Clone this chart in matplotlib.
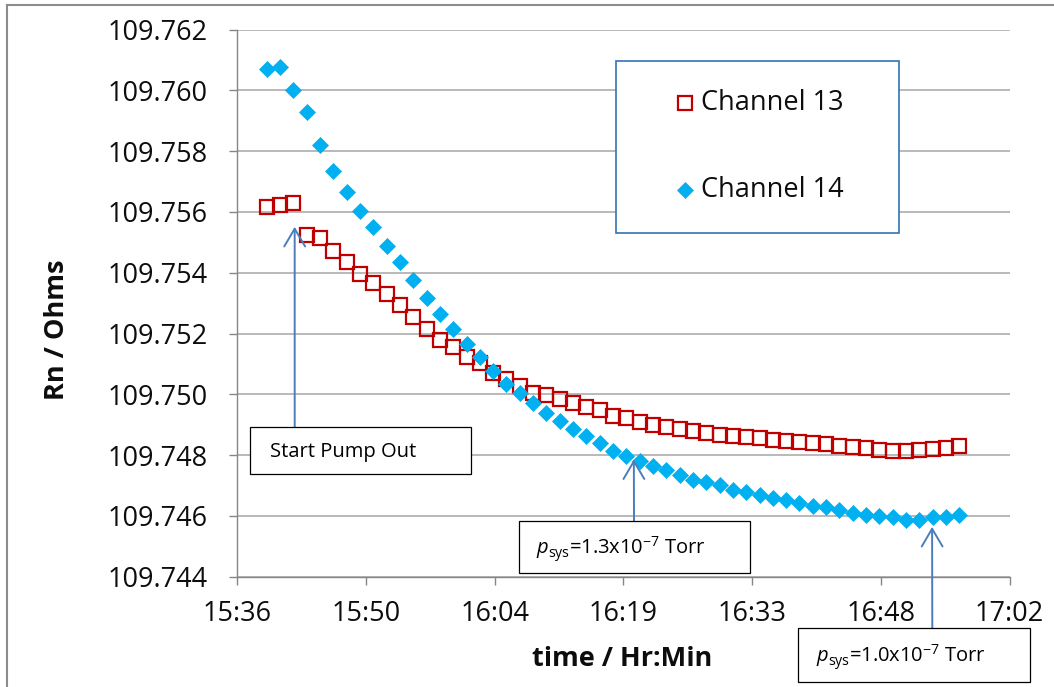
import math
import matplotlib
matplotlib.use("Agg")
import matplotlib.pyplot as plt
from matplotlib.ticker import FixedLocator, FuncFormatter
from matplotlib.patches import Rectangle
from matplotlib.lines import Line2D

plt.rcParams['font.family'] = ['Open Sans', 'DejaVu Sans']
plt.rcParams['mathtext.fontset'] = 'custom'
plt.rcParams['mathtext.rm'] = 'Open Sans'
plt.rcParams['mathtext.it'] = 'Open Sans:italic'

# ---- data -------------------------------------------------------------
start_clock = (15, 36)  # time origin of the x axis (hh, mm)

# sample times, minutes after 15:36
elapsed_min = [3.30, 4.79, 6.28, 7.77, 9.26, 10.75, 12.24, 13.73, 15.22, 16.71,
               18.20, 19.69, 21.18, 22.67, 24.16, 25.65, 27.14, 28.63, 30.12, 31.61,
               33.10, 34.59, 36.08, 37.57, 39.06, 40.55, 42.04, 43.53, 45.02, 46.51,
               48.00, 49.49, 50.98, 52.47, 53.96, 55.45, 56.94, 58.43, 59.92, 61.41,
               62.90, 64.39, 65.88, 67.37, 68.86, 70.35, 71.84, 73.33, 74.82, 76.31,
               77.80, 79.29, 80.78]

channel_13 = [109.75615, 109.75624, 109.75629, 109.75523, 109.75513, 109.75470, 109.75435,
              109.75396, 109.75365, 109.75330, 109.75293, 109.75255, 109.75216, 109.75179,
              109.75157, 109.75124, 109.75102, 109.75071, 109.75049, 109.75027, 109.75005,
              109.74997, 109.74986, 109.74970, 109.74958, 109.74947, 109.74930, 109.74921,
              109.74909, 109.74898, 109.74893, 109.74887, 109.74880, 109.74873, 109.74867,
              109.74863, 109.74860, 109.74856, 109.74850, 109.74846, 109.74843, 109.74840,
              109.74837, 109.74830, 109.74828, 109.74822, 109.74817, 109.74813, 109.74813,
              109.74816, 109.74819, 109.74825, 109.74831]

channel_14 = [109.76069, 109.76076, 109.76001, 109.75929, 109.75821, 109.75736, 109.75665,
              109.75602, 109.75549, 109.75489, 109.75435, 109.75376, 109.75318, 109.75264,
              109.75216, 109.75165, 109.75122, 109.75078, 109.75034, 109.75003, 109.74970,
              109.74938, 109.74913, 109.74887, 109.74864, 109.74841, 109.74815, 109.74797,
              109.74782, 109.74764, 109.74751, 109.74733, 109.74719, 109.74712, 109.74703,
              109.74686, 109.74679, 109.74668, 109.74660, 109.74653, 109.74642, 109.74632,
              109.74630, 109.74619, 109.74609, 109.74603, 109.74600, 109.74595, 109.74587,
              109.74587, 109.74597, 109.74595, 109.74603]

y_ticks = [109.744, 109.746, 109.748, 109.750, 109.752, 109.754,
           109.756, 109.758, 109.760, 109.762]
x_ticks_min = [0.0, 14.4, 28.8, 43.2, 57.6, 72.0, 86.4]   # 0.01-day steps

series_labels = ["Channel 13", "Channel 14"]

# annotation arrow tips (minutes after 15:36, ohms)
pump_out_tip = (6.42, 109.75551)
p13_tip = (44.37, 109.74786)
p10_tip = (77.74, 109.74564)

# ---- styling ----------------------------------------------------------
RED = '#C00000'
BLUE = '#00B0F0'
ARROW = '#4A7EBB'
GRID = '#A6A6A6'
AXIS = '#868686'
TEXT = '#0d0d0d'

W, H = 1054, 687
fig = plt.figure(figsize=(W / 100, H / 100), dpi=100)


def fx(px):
    return px / W


def fy(py):
    return 1 - py / H


ax_l, ax_r, ax_t, ax_b = 237.3, 1009.5, 29.5, 576.7
ax = fig.add_axes([fx(ax_l), fy(ax_b), fx(ax_r - ax_l), (ax_b - ax_t) / H])

sq_style = dict(linestyle='none', marker='s', markersize=9.6, markerfacecolor='none',
                markeredgecolor=RED, markeredgewidth=1.6)
di_style = dict(linestyle='none', marker='D', markersize=8.2, markerfacecolor=BLUE,
                markeredgecolor=BLUE, markeredgewidth=0.5)

ax.plot(elapsed_min, channel_13, zorder=3, **sq_style)
ax.plot(elapsed_min, channel_14, zorder=4, **di_style)

ax.set_xlim(x_ticks_min[0], x_ticks_min[-1])
ax.set_ylim(y_ticks[0], y_ticks[-1])


def clock_label(m, _pos=None):
    total = start_clock[0] * 60 + start_clock[1] + m
    total = math.floor(total + 1e-6)
    return f"{total // 60}:{total % 60:02d}"


ax.xaxis.set_major_locator(FixedLocator(x_ticks_min))
ax.xaxis.set_major_formatter(FuncFormatter(clock_label))
ax.yaxis.set_major_locator(FixedLocator(y_ticks))
ax.yaxis.set_major_formatter(FuncFormatter(lambda v, p: f"{v:.3f}"))

ax.grid(axis='y', color=GRID, linewidth=1.1, zorder=0)
ax.set_axisbelow(True)
for side in ('top', 'right'):
    ax.spines[side].set_visible(False)
for side in ('left', 'bottom'):
    ax.spines[side].set_color(AXIS)
    ax.spines[side].set_linewidth(1.0)
ax.tick_params(axis='both', direction='out', length=6, width=1.0, color=AXIS,
               labelsize=19.5, labelcolor=TEXT)
ax.tick_params(axis='y', pad=15.5)
ax.tick_params(axis='x', pad=11)

# axis titles
fig.text(fx(57), fy(330), "Rn / Ohms", rotation=90, ha='center', va='center',
         fontsize=19.5, fontweight='bold', color=TEXT)
fig.text(fx(622), fy(659), "time / Hr:Min", ha='center', va='center',
         fontsize=19.5, fontweight='bold', color=TEXT)

# legend box
fig.add_artist(Rectangle((fx(616), fy(232.7)), fx(899 - 616), (232.7 - 60.7) / H,
                         transform=fig.transFigure, facecolor='white',
                         edgecolor='#2E75B6', linewidth=1.2, zorder=5))
for ypx, style, label in ((103.3, sq_style, series_labels[0]),
                          (190.0, di_style, series_labels[1])):
    fig.add_artist(Line2D([fx(685)], [fy(ypx)], transform=fig.transFigure,
                          zorder=6, **style))
    fig.text(fx(701), fy(ypx), label, ha='left', va='center', fontsize=19.5,
             color=TEXT, zorder=6)


# annotation boxes with arrows
def note(box, text, text_x, tip, arrow_x):
    x0, y0, x1, y1 = box
    fig.add_artist(Rectangle((fx(x0), fy(y1)), fx(x1 - x0), (y1 - y0) / H,
                             transform=fig.transFigure, facecolor='white',
                             edgecolor='black', linewidth=0.9, zorder=5))
    fig.text(fx(text_x), fy((y0 + y1) / 2 + 2), text, ha='left', va='center',
             fontsize=14.5, color='black', zorder=6)
    ax.annotate('', xy=tip, xycoords='data', xytext=(arrow_x, H - y0),
                textcoords='figure pixels', annotation_clip=False,
                arrowprops=dict(arrowstyle='->,head_length=0.85,head_width=0.5',
                                mutation_scale=15, color=ARROW, lw=1.4,
                                shrinkA=0, shrinkB=0), zorder=6)


note((250, 426.7, 470.7, 474), "Start Pump Out", 270, pump_out_tip, 294.7)
note((518.7, 521, 750, 573.3), r"$p_{\mathrm{sys}}$=1.3x10$^{-7}$ Torr", 536, p13_tip, 634)
note((798.3, 628.3, 1030, 681.7), r"$p_{\mathrm{sys}}$=1.0x10$^{-7}$ Torr", 816, p10_tip, 932.3)

# chart frame
fig.add_artist(Line2D([fx(7), fx(W)], [fy(5), fy(5)], transform=fig.transFigure,
                      color='#8C8C8C', linewidth=1.5))
fig.add_artist(Line2D([fx(7), fx(7)], [fy(5), fy(H)], transform=fig.transFigure,
                      color='#8C8C8C', linewidth=1.5))

fig.savefig("out.png", dpi=100, facecolor='white')
